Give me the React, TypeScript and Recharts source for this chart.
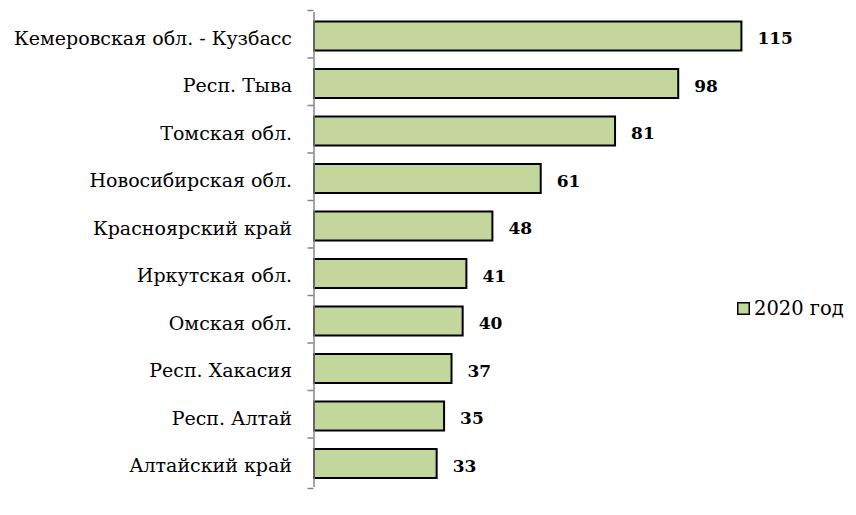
import React from "react";
import { BarChart, Bar, XAxis, YAxis, LabelList, Legend } from "recharts";

const categories = [
  "Кемеровская обл. - Кузбасс",
  "Респ. Тыва",
  "Томская обл.",
  "Новосибирская обл.",
  "Красноярский край",
  "Иркутская обл.",
  "Омская обл.",
  "Респ. Хакасия",
  "Респ. Алтай",
  "Алтайский край",
];
const values2020 = [115, 98, 81, 61, 48, 41, 40, 37, 35, 33];
const seriesName = "2020 год";

const data = categories.map((c, i) => ({ name: c, v: values2020[i] }));

const W = 856;
const H = 515;
const CH = 518;
const M = { top: 12, right: 96, bottom: 1, left: 0 };
const YW = 314;
const band = (CH - M.top - M.bottom) / categories.length;
const FONT = "DejaVu Serif";

const CatTick = (props: any) => {
  const { x, y, payload, index } = props;
  const ax = YW + M.left - 0.5;
  return (
    <g>
      <line x1={ax - 6} x2={ax} y1={y - band / 2} y2={y - band / 2} stroke="#868686" strokeWidth={1.5} />
      {index === categories.length - 1 && (
        <line x1={ax - 6} x2={ax} y1={y + band / 2} y2={y + band / 2} stroke="#868686" strokeWidth={1.5} />
      )}
      <text x={x - 14} y={y} dy={9} textAnchor="end" fontFamily={FONT} fontSize={19} fill="#000">
        {payload.value}
      </text>
    </g>
  );
};

const ValueLabel = (props: any) => {
  const { x, y, width, height, value } = props;
  return (
    <text
      x={x + width + 16}
      y={y + height / 2}
      dy={8}
      textAnchor="start"
      fontFamily={FONT}
      fontSize={17}
      fontWeight="bold"
      fill="#000"
    >
      {value}
    </text>
  );
};

const LegendContent = () => (
  <svg width={118} height={30} style={{ display: "block", overflow: "visible" }}>
    <rect x={1.75} y={4.75} width={11.5} height={11.5} fill="#c3d69b" stroke="#000" strokeWidth={1.5} />
    <text x={18} y={17} fontFamily={FONT} fontSize={19.5} fill="#000">
      {seriesName}
    </text>
  </svg>
);

export default function App() {
  return (
    <div style={{ position: "absolute", left: 0, top: 0, width: W, height: H, background: "#fff", overflow: "hidden" }}>
      <BarChart width={W} height={CH} data={data} layout="vertical" margin={M} barCategoryGap="20%">
        <XAxis type="number" domain={[0, 120]} hide />
        <YAxis
          type="category"
          dataKey="name"
          width={YW}
          axisLine={{ stroke: "#868686", strokeWidth: 1.5 }}
          tickLine={false}
          tick={<CatTick />}
          interval={0}
        />
        <Legend
          content={<LegendContent />}
          wrapperStyle={{ position: "absolute", left: 736, top: 298, width: 118 }}
        />
        <Bar dataKey="v" name={seriesName} fill="#c3d69b" stroke="#000" strokeWidth={2} isAnimationActive={false}>
          <LabelList dataKey="v" content={<ValueLabel />} />
        </Bar>
      </BarChart>
    </div>
  );
}
